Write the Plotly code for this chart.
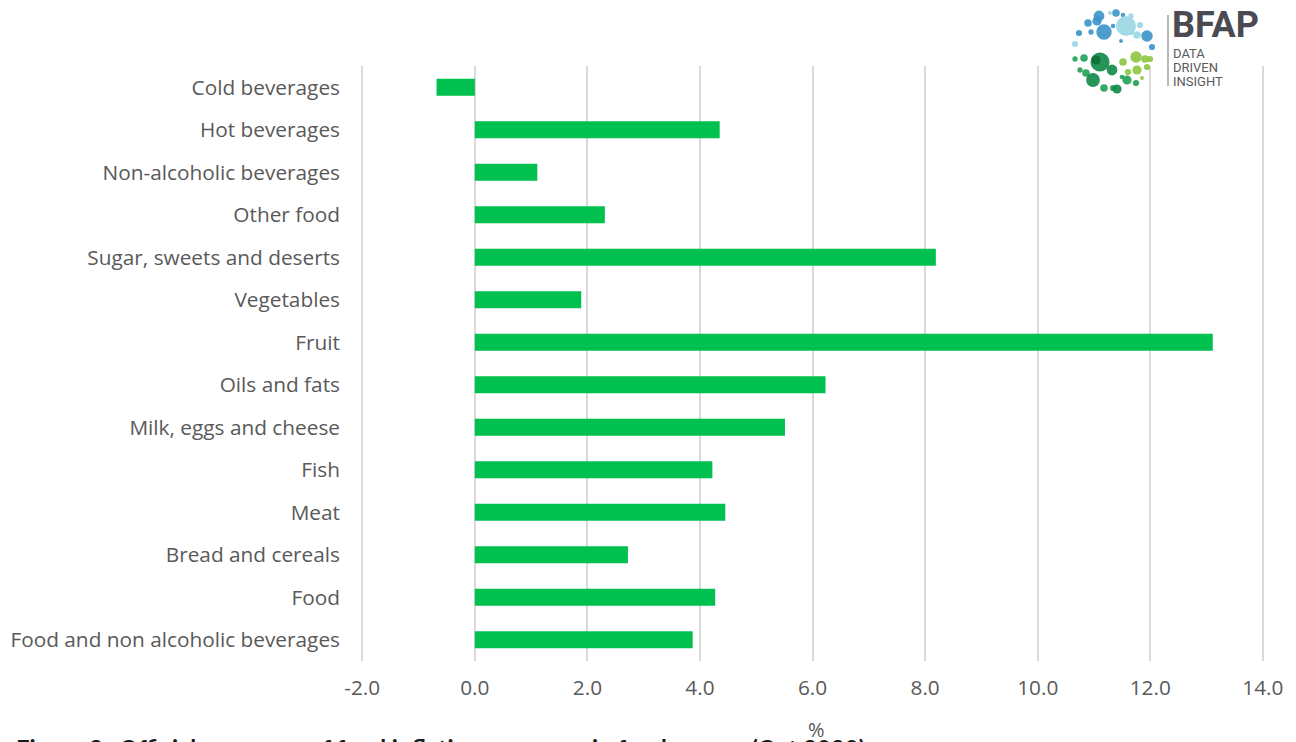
import plotly.graph_objects as go

# Food inflation by category, annual % change
categories = [
    "Food and non alcoholic beverages",
    "Food",
    "Bread and cereals",
    "Meat",
    "Fish",
    "Milk, eggs and cheese",
    "Oils and fats",
    "Fruit",
    "Vegetables",
    "Sugar, sweets and deserts",
    "Other food",
    "Non-alcoholic beverages",
    "Hot beverages",
    "Cold beverages",
]
inflation = [3.87, 4.27, 2.72, 4.45, 4.22, 5.51, 6.23, 13.11, 1.89, 8.19, 2.31, 1.11, 4.35, -0.68]

x_ticks = [-2, 0, 2, 4, 6, 8, 10, 12, 14]
x_tick_text = [f"{v:.1f}" for v in x_ticks]

W, H = 1296, 742
ML, MR, MT, MB = 351, 5, 66, 81
PW, PH = W - ML - MR, H - MT - MB


def px(x):
    return (x - ML) / PW


def py(y):
    return 1 - (y - MT) / PH


fig = go.Figure(
    go.Bar(
        x=inflation,
        y=categories,
        orientation="h",
        marker=dict(color="#00c050", line=dict(width=0)),
        width=0.4,
    )
)

label_font = dict(family="Open Sans, Calibri, sans-serif", size=20.8, color="#595959")

fig.update_layout(
    width=W,
    height=H,
    margin=dict(l=ML, r=MR, t=MT, b=MB),
    paper_bgcolor="white",
    plot_bgcolor="white",
    showlegend=False,
    xaxis=dict(
        range=[-2.2, 14.5],
        tickvals=x_ticks,
        ticktext=x_tick_text,
        showgrid=True,
        gridcolor="#d9d9d9",
        gridwidth=1.5,
        zeroline=True,
        zerolinecolor="#d9d9d9",
        zerolinewidth=1.5,
        showline=False,
        ticks="",
        tickfont=label_font,
        ticklabelstandoff=12,
    ),
    yaxis=dict(
        categoryorder="array",
        categoryarray=categories,
        range=[-0.5, len(categories) - 0.5],
        showgrid=False,
        zeroline=False,
        showline=False,
        ticks="",
        tickfont=label_font,
        ticklabelstandoff=10,
    ),
)

# axis unit
fig.add_annotation(
    x=px(816), y=py(729), xref="paper", yref="paper",
    text="%", showarrow=False,
    font=dict(family="Open Sans, Calibri, sans-serif", size=20, color="#595959"),
    xanchor="center", yanchor="middle",
)

# figure caption along the bottom edge
cap_font = dict(family="Lato, Calibri, sans-serif", size=24, color="#1a1a1a")
fig.add_annotation(
    x=px(111), y=py(732), xref="paper", yref="paper",
    text="<b>Figure 2:</b>", showarrow=False, font=cap_font,
    xanchor="right", yanchor="top",
)
fig.add_annotation(
    x=px(117), y=py(732), xref="paper", yref="paper",
    text="<b>Official measures of food inflation across main food groups (Oct 2020)</b>",
    showarrow=False, font=cap_font,
    xanchor="left", yanchor="top",
)

# BFAP logo: dot cluster, divider and wordmark
BLUE, LBLUE = "#3b94c8", "#9ad6e3"
GREEN, DGREEN, LIME = "#1fa055", "#0e8a45", "#8cc63f"
dots = [
    (1099, 16, 4.7, BLUE), (1116, 13, 3.3, BLUE), (1110, 13, 1.7, LBLUE),
    (1123, 15, 2.0, BLUE), (1131, 16, 2.3, LBLUE), (1088, 23, 3.3, BLUE),
    (1097, 21, 4.0, BLUE), (1126, 26, 8.7, LBLUE), (1104, 32, 6.7, BLUE),
    (1091, 32, 2.3, BLUE), (1079, 33, 2.7, BLUE), (1113, 26, 2.0, BLUE),
    (1140, 25, 2.7, LBLUE), (1137, 35, 3.3, LBLUE), (1147, 36, 5.0, BLUE),
    (1152, 47, 2.7, BLUE), (1075, 44, 2.7, LBLUE), (1121, 41, 1.7, BLUE),
    (1132, 33, 1.7, LBLUE),
    (1075, 59, 2.3, GREEN), (1084, 58, 3.3, GREEN), (1100, 62, 8.3, DGREEN),
    (1096, 60, 4.0, "#0b6f38"), (1112, 70, 4.7, DGREEN), (1080, 70, 2.3, GREEN),
    (1086, 73, 3.3, GREEN), (1093, 80, 6.0, DGREEN), (1104, 88, 3.3, GREEN),
    (1113, 88, 2.7, GREEN), (1117, 89, 4.0, DGREEN), (1123, 62, 3.3, LIME),
    (1136, 57, 5.0, LIME), (1145, 59, 3.3, LIME), (1150, 59, 2.7, LIME),
    (1137, 70, 4.0, LIME), (1147, 67, 2.7, LIME), (1127, 80, 4.0, GREEN),
    (1136, 83, 2.7, GREEN), (1122, 77, 2.0, GREEN), (1142, 78, 1.7, LIME),
    (1128, 72, 2.7, LIME),
]
for cx, cy, r, c in dots:
    r *= 1.15
    fig.add_shape(
        type="circle", xref="paper", yref="paper",
        x0=px(cx - r), x1=px(cx + r), y0=py(cy + r), y1=py(cy - r),
        fillcolor=c, line=dict(width=0), opacity=0.9, layer="above",
    )
fig.add_shape(
    type="line", xref="paper", yref="paper",
    x0=px(1168), x1=px(1168), y0=py(15), y1=py(86),
    line=dict(color="#a0a0a0", width=1.5),
)
fig.add_annotation(
    x=px(1170), y=py(25), xref="paper", yref="paper",
    text="<b>BFAP</b>", showarrow=False,
    font=dict(family="Roboto, Arial, sans-serif", size=36, color="#4a4a52"),
    xanchor="left", yanchor="middle",
)
for i, word in enumerate(["DATA", "DRIVEN", "INSIGHT"]):
    fig.add_annotation(
        x=px(1171), y=py(53 + 14 * i), xref="paper", yref="paper",
        text=word, showarrow=False,
        font=dict(family="Roboto, Arial, sans-serif", size=13, color="#5a5a5a"),
        xanchor="left", yanchor="middle",
    )

fig.write_html("out.html")
